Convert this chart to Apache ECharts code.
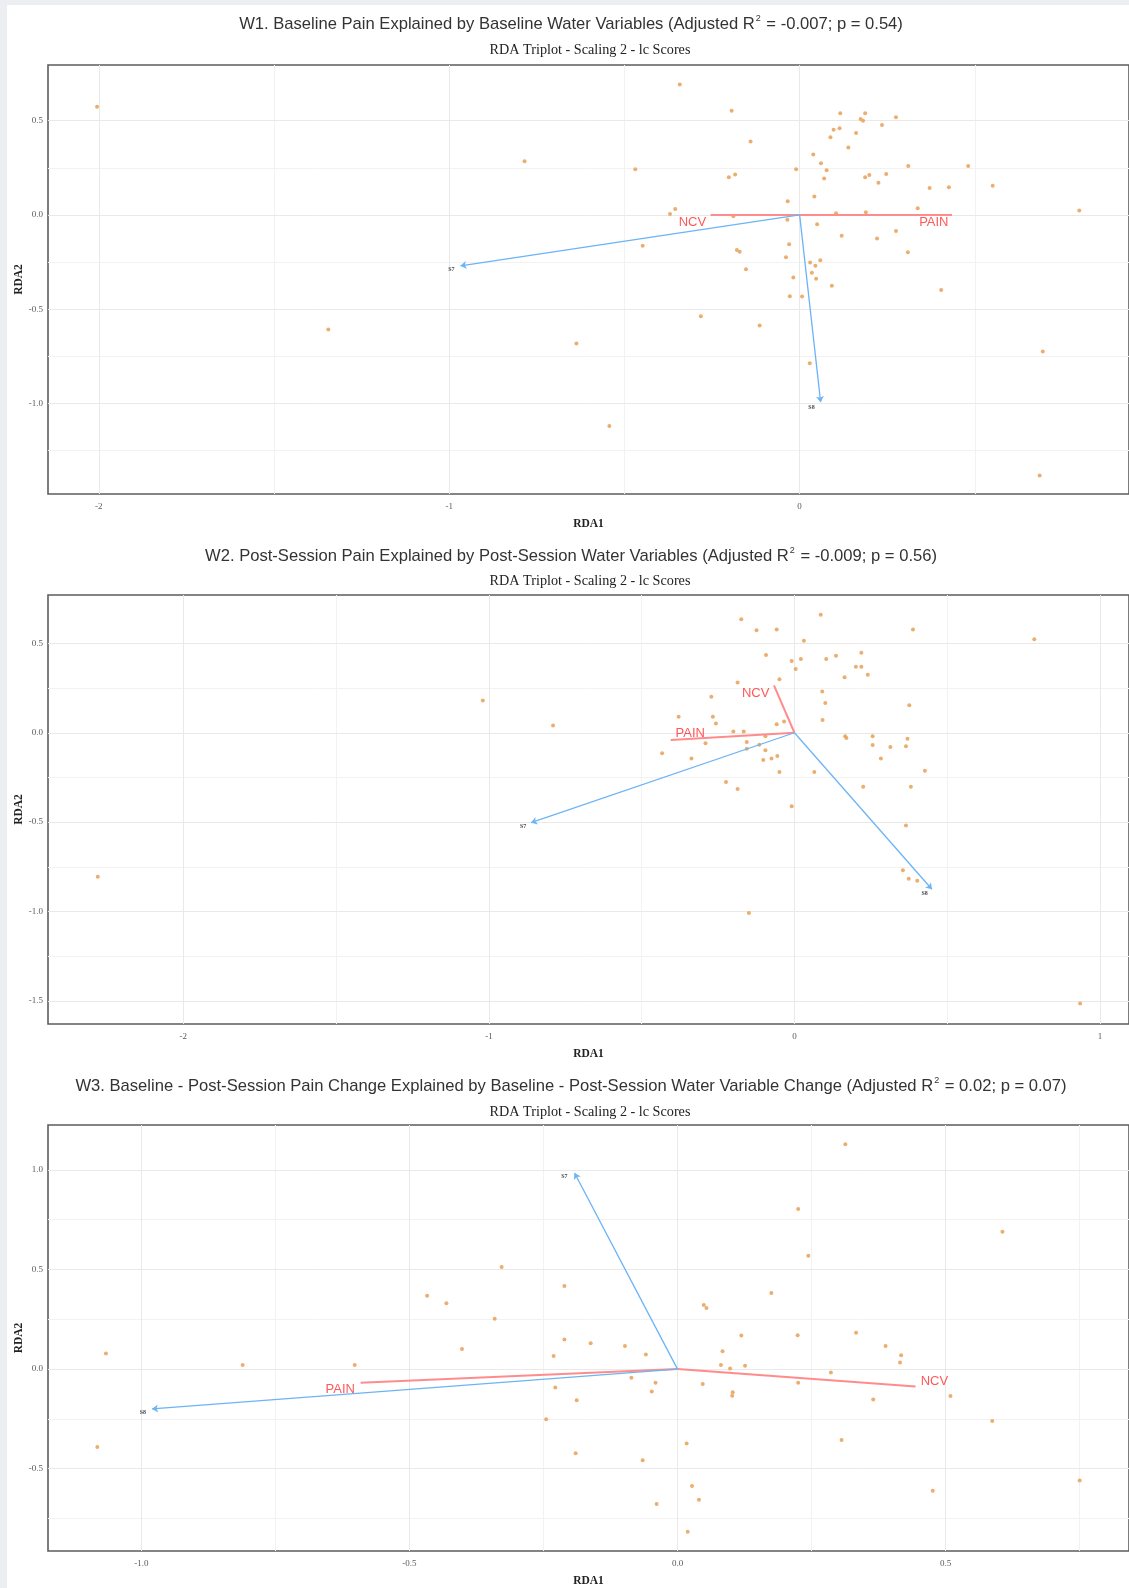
<!DOCTYPE html>
<html>
<head>
<meta charset="utf-8">
<script src="https://cdn.jsdelivr.net/npm/echarts@6/dist/echarts.min.js"></script>
<style>
  html, body { margin: 0; padding: 0; width: 1129px; height: 1588px; overflow: hidden; background: #eceef1; }
  #sheet { position: absolute; left: 7px; top: 5px; right: 0; bottom: 0; background: #ffffff; }
  #chart { position: absolute; left: 0; top: 0; width: 1129px; height: 1588px; }
</style>
</head>
<body>
<div id="sheet"></div>
<div id="chart"></div>
<script>
// ---------- W1: baseline ----------
const w1Title = ['W1. Baseline Pain Explained by Baseline Water Variables (Adjusted R', '2', ' = -0.007; p = 0.54)'];
const w1Sites = [
  [-2.005, 0.573], [-0.785, 0.284], [-1.345, -0.608],
  [-0.342, 0.691], [-0.194, 0.553], [-0.140, 0.389], [-0.469, 0.242], [-0.202, 0.200], [-0.184, 0.214],
  [-0.034, 0.072], [-0.010, 0.242], [-0.370, 0.005], [-0.355, 0.032], [-0.189, -0.007], [-0.035, -0.025],
  [-0.448, -0.164], [-0.179, -0.186], [-0.171, -0.196], [-0.153, -0.288], [-0.039, -0.224], [-0.030, -0.155],
  [-0.018, -0.332], [-0.028, -0.431], [0.007, -0.433], [-0.282, -0.537], [-0.114, -0.587], [-0.637, -0.682],
  [-0.543, -1.120], [0.029, -0.786], [0.039, 0.320], [0.061, 0.274], [0.077, 0.237], [0.070, 0.193],
  [0.042, 0.097], [0.050, -0.049], [0.030, -0.253], [0.045, -0.269], [0.059, -0.240], [0.035, -0.307],
  [0.047, -0.339], [0.092, -0.375], [0.104, 0.009], [0.120, -0.110], [0.088, 0.412], [0.097, 0.452],
  [0.114, 0.459], [0.116, 0.539], [0.139, 0.357], [0.161, 0.435], [0.174, 0.509], [0.181, 0.500],
  [0.187, 0.539], [0.235, 0.477], [0.275, 0.518], [0.187, 0.200], [0.199, 0.212], [0.225, 0.170],
  [0.247, 0.217], [0.189, 0.014], [0.221, -0.125], [0.275, -0.085], [0.310, 0.260], [0.309, -0.198],
  [0.337, 0.035], [0.371, 0.143], [0.426, 0.147], [0.481, 0.260], [0.551, 0.155], [0.404, -0.398],
  [0.798, 0.023], [0.694, -0.724], [0.685, -1.382]
];
const w1WaterNames = ['S7', 'S8'];
const w1WaterTips = [[-0.968, -0.270], [0.060, -0.993]];
const w1WaterLabelAt = [[-0.994, -0.287], [0.034, -1.019]];
const w1ResponseNames = ['NCV', 'PAIN'];
const w1ResponseTips = [[-0.254, 0.0], [0.435, 0.0]];
const w1ResponseLabelAt = [[-0.306, -0.042], [0.383, -0.042]];
const w1XRange = [-2.145, 0.94];
const w1YRange = [-1.48, 0.795];
const w1XTicks = [-2, -1, 0];
const w1XMinor = [-1.5, -0.5, 0.5];
const w1YTicks = [0.5, 0, -0.5, -1];
const w1YMinor = [0.25, -0.25, -0.75, -1.25];

// ---------- W2: post-session ----------
const w2Title = ['W2. Post-Session Pain Explained by Post-Session Water Variables (Adjusted R', '2', ' = -0.009; p = 0.56)'];
const w2Sites = [
  [-1.02, 0.18], [-0.79, 0.04], [-2.28, -0.806],
  [-0.174, 0.635], [-0.124, 0.574], [-0.058, 0.578], [0.086, 0.661], [0.388, 0.578], [0.785, 0.524],
  [0.031, 0.515], [-0.093, 0.435], [-0.009, 0.402], [0.021, 0.413], [0.004, 0.357], [0.104, 0.413],
  [0.136, 0.431], [0.219, 0.448], [0.201, 0.370], [0.219, 0.370], [0.240, 0.324], [0.164, 0.311],
  [-0.049, 0.300], [-0.186, 0.281], [0.091, 0.231], [0.101, 0.167], [0.092, 0.072], [0.376, 0.154],
  [-0.272, 0.202], [-0.379, 0.089], [-0.267, 0.089], [-0.257, 0.052], [-0.058, 0.048], [-0.034, 0.063],
  [-0.200, 0.007], [-0.166, 0.007], [-0.095, -0.020], [-0.156, -0.052], [-0.156, -0.089], [-0.115, -0.067],
  [-0.291, -0.059], [-0.433, -0.115], [-0.337, -0.144], [-0.095, -0.098], [-0.102, -0.152], [-0.075, -0.144],
  [-0.056, -0.130], [-0.049, -0.219], [0.065, -0.219], [0.166, -0.019], [0.170, -0.030], [0.256, -0.020],
  [0.256, -0.069], [0.314, -0.080], [0.365, -0.076], [0.370, -0.033], [0.283, -0.144], [0.427, -0.213],
  [-0.224, -0.276], [-0.186, -0.315], [0.225, -0.302], [0.381, -0.302], [-0.009, -0.411], [0.365, -0.519],
  [0.355, -0.770], [0.374, -0.817], [0.402, -0.828], [-0.149, -1.009], [0.935, -1.515]
];
const w2WaterNames = ['S7', 'S8'];
const w2WaterTips = [[-0.862, -0.503], [0.450, -0.876]];
const w2WaterLabelAt = [[-0.888, -0.525], [0.426, -0.902]];
const w2ResponseNames = ['NCV', 'PAIN'];
const w2ResponseTips = [[-0.067, 0.265], [-0.405, -0.041]];
const w2ResponseLabelAt = [[-0.127, 0.222], [-0.341, -0.006]];
const w2XRange = [-2.443, 1.095];
const w2YRange = [-1.63, 0.771];
const w2XTicks = [-2, -1, 0, 1];
const w2XMinor = [-1.5, -0.5, 0.5];
const w2YTicks = [0.5, 0, -0.5, -1, -1.5];
const w2YMinor = [0.25, -0.25, -0.75, -1.25];

// ---------- W3: baseline - post-session change ----------
const w3Title = ['W3. Baseline - Post-Session Pain Change Explained by Baseline - Post-Session Water Variable Change (Adjusted R', '2', ' = 0.02; p = 0.07)'];
const w3Sites = [
  [-1.066, 0.078], [-1.082, -0.391], [-0.811, 0.021], [-0.602, 0.021], [-0.467, 0.368], [-0.431, 0.330],
  [-0.328, 0.512], [-0.341, 0.252], [-0.402, 0.101], [-0.231, 0.066], [-0.228, -0.092], [-0.245, -0.252],
  [-0.211, 0.417], [-0.211, 0.148], [-0.188, -0.156], [-0.190, -0.422], [-0.162, 0.130], [-0.098, 0.116],
  [-0.059, 0.073], [-0.086, -0.043], [-0.041, -0.069], [-0.048, -0.113], [-0.065, -0.457], [-0.039, -0.677],
  [0.017, -0.373], [0.027, -0.587], [0.040, -0.656], [0.019, -0.816], [0.047, -0.075], [0.049, 0.321],
  [0.054, 0.307], [0.081, 0.021], [0.084, 0.090], [0.098, 0.003], [0.103, -0.116], [0.102, -0.134],
  [0.119, 0.168], [0.126, 0.017], [0.175, 0.382], [0.225, 0.804], [0.244, 0.569], [0.224, 0.170],
  [0.225, -0.069], [0.286, -0.017], [0.306, -0.356], [0.313, 1.128], [0.333, 0.182], [0.365, -0.153],
  [0.388, 0.116], [0.417, 0.069], [0.415, 0.033], [0.476, -0.611], [0.509, -0.135], [0.587, -0.260],
  [0.606, 0.689], [0.750, -0.559]
];
const w3WaterNames = ['S8', 'S7'];
const w3WaterTips = [[-0.980, -0.200], [-0.192, 0.984]];
const w3WaterLabelAt = [[-0.997, -0.220], [-0.211, 0.969]];
const w3ResponseNames = ['PAIN', 'NCV'];
const w3ResponseTips = [[-0.591, -0.069], [0.444, -0.087]];
const w3ResponseLabelAt = [[-0.629, -0.104], [0.479, -0.061]];
const w3XRange = [-1.174, 0.842];
const w3YRange = [-0.913, 1.225];
const w3XTicks = [-1, -0.5, 0, 0.5];
const w3XMinor = [-0.75, -0.25, 0.25, 0.75];
const w3YTicks = [1, 0.5, 0, -0.5];
const w3YMinor = [0.75, 0.25, -0.25, -0.75];

const subtitleText = 'RDA Triplot - Scaling 2 - lc Scores';

// ---------- layout of the three stacked panels ----------
const panels = [
  { title: w1Title, sites: w1Sites, waterNames: w1WaterNames, waterTips: w1WaterTips, waterLabelAt: w1WaterLabelAt,
    respNames: w1ResponseNames, respTips: w1ResponseTips, respLabelAt: w1ResponseLabelAt,
    xRange: w1XRange, yRange: w1YRange, xTicks: w1XTicks, xMinor: w1XMinor, yTicks: w1YTicks, yMinor: w1YMinor,
    xFmt: v => String(v),
    box: { left: 48, top: 65, width: 1086, height: 429 }, titleY: 24, subY: 50 },
  { title: w2Title, sites: w2Sites, waterNames: w2WaterNames, waterTips: w2WaterTips, waterLabelAt: w2WaterLabelAt,
    respNames: w2ResponseNames, respTips: w2ResponseTips, respLabelAt: w2ResponseLabelAt,
    xRange: w2XRange, yRange: w2YRange, xTicks: w2XTicks, xMinor: w2XMinor, yTicks: w2YTicks, yMinor: w2YMinor,
    xFmt: v => String(v),
    box: { left: 48, top: 595, width: 1083, height: 429 }, titleY: 556, subY: 581 },
  { title: w3Title, sites: w3Sites, waterNames: w3WaterNames, waterTips: w3WaterTips, waterLabelAt: w3WaterLabelAt,
    respNames: w3ResponseNames, respTips: w3ResponseTips, respLabelAt: w3ResponseLabelAt,
    xRange: w3XRange, yRange: w3YRange, xTicks: w3XTicks, xMinor: w3XMinor, yTicks: w3YTicks, yMinor: w3YMinor,
    xFmt: v => v.toFixed(1),
    box: { left: 48, top: 1125, width: 1082, height: 431 }, titleY: 1086, subY: 1112 }
];

const SERIF = '"Liberation Serif", "Times New Roman", serif';
const SANS = '"Liberation Sans", Arial, sans-serif';
const tickLabelStyle = { fontFamily: SERIF, fontSize: 9, color: '#5a5a5a' };
const axisNameStyle = { fontFamily: SERIF, fontSize: 11.5, fontWeight: 'bold', color: '#222222' };

const grids = [], xAxes = [], yAxes = [], series = [], graphics = [];

panels.forEach((p, i) => {
  grids.push(Object.assign({ show: true, backgroundColor: '#ffffff', borderColor: '#5c5c5c', borderWidth: 1.6 }, p.box));

  xAxes.push({
    type: 'value', gridIndex: i, min: p.xRange[0], max: p.xRange[1],
    axisLine: { show: false },
    splitLine: { show: false },
    axisTick: { show: true, customValues: p.xTicks, length: 3, lineStyle: { color: '#555555', width: 1 } },
    axisLabel: Object.assign({ show: true, customValues: p.xTicks, margin: 8, formatter: p.xFmt }, tickLabelStyle),
    name: 'RDA1', nameLocation: 'middle', nameGap: 24, nameTextStyle: axisNameStyle
  });
  yAxes.push({
    type: 'value', gridIndex: i, min: p.yRange[0], max: p.yRange[1],
    axisLine: { show: false },
    splitLine: { show: false },
    axisTick: { show: true, customValues: p.yTicks, length: 3, lineStyle: { color: '#555555', width: 1 } },
    axisLabel: Object.assign({ show: true, customValues: p.yTicks, margin: 5, formatter: v => v.toFixed(1) }, tickLabelStyle),
    name: 'RDA2', nameLocation: 'middle', nameGap: 23, nameRotate: 90, nameMoveOverlap: false, nameTextStyle: axisNameStyle
  });

  // panel grid lines, laid out on the axes' own scales, kept beneath every mark
  const minorStyle = { color: '#f2f2f2', width: 1, type: 'solid' };
  const majorStyle = { color: '#e9e9e9', width: 1, type: 'solid' };
  const gridLines = []
    .concat(p.xMinor.map(v => ({ xAxis: v, lineStyle: minorStyle })))
    .concat(p.yMinor.map(v => ({ yAxis: v, lineStyle: minorStyle })))
    .concat(p.xTicks.map(v => ({ xAxis: v, lineStyle: majorStyle })))
    .concat(p.yTicks.map(v => ({ yAxis: v, lineStyle: majorStyle })));
  series.push({
    type: 'line', xAxisIndex: i, yAxisIndex: i, data: [], silent: true, z: 1,
    markLine: { silent: true, z: 1, symbol: ['none', 'none'], label: { show: false }, animation: false, data: gridLines }
  });

  // site scores
  series.push({
    type: 'scatter', xAxisIndex: i, yAxisIndex: i, data: p.sites, symbolSize: 4, z: 3,
    itemStyle: { color: '#e8a55e', opacity: 0.9 }, silent: true
  });

  // response variable segments (no arrow heads)
  series.push({
    type: 'lines', coordinateSystem: 'cartesian2d', xAxisIndex: i, yAxisIndex: i, z: 4, silent: true,
    data: p.respTips.map(t => ({ coords: [[0, 0], t] })),
    symbol: ['none', 'none'],
    lineStyle: { color: '#ff8c8c', width: 2, opacity: 1 }
  });

  // explanatory (water) arrows
  series.push({
    type: 'lines', coordinateSystem: 'cartesian2d', xAxisIndex: i, yAxisIndex: i, z: 5, silent: true,
    data: p.waterTips.map(t => ({ coords: [[0, 0], t] })),
    symbol: ['none', 'arrow'], symbolSize: 6,
    lineStyle: { color: '#6cb4f5', width: 1.3, opacity: 1 }
  });

  // response labels
  series.push({
    type: 'scatter', xAxisIndex: i, yAxisIndex: i, z: 6, silent: true, symbolSize: 1,
    itemStyle: { color: 'rgba(0,0,0,0)' },
    data: p.respNames.map((n, k) => ({ name: n, value: p.respLabelAt[k] })),
    label: { show: true, position: 'inside', formatter: '{b}', color: '#ff2e2e', fontFamily: SANS, fontSize: 13 }
  });

  // water variable labels
  series.push({
    type: 'scatter', xAxisIndex: i, yAxisIndex: i, z: 6, silent: true, symbolSize: 1,
    itemStyle: { color: 'rgba(0,0,0,0)' },
    data: p.waterNames.map((n, k) => ({ name: n, value: p.waterLabelAt[k] })),
    label: { show: true, position: 'inside', formatter: '{b}', color: '#111111', fontFamily: SERIF, fontSize: 6, fontWeight: 'bold' }
  });

  // titles
  graphics.push({
    type: 'text', x: 571, y: p.titleY, silent: true,
    style: {
      text: '{t|' + p.title[0] + '}{s|' + p.title[1] + '}{t|' + p.title[2] + '}',
      align: 'center', verticalAlign: 'middle', textAlign: 'center', textVerticalAlign: 'middle',
      rich: {
        t: { fontFamily: SANS, fontSize: 16.6, fill: '#333333', lineHeight: 20 },
        s: { fontFamily: SANS, fontSize: 9, fill: '#333333', lineHeight: 8, verticalAlign: 'top', padding: [0, 1, 0, 1] }
      }
    }
  });
  graphics.push({
    type: 'text', x: 590, y: p.subY, silent: true,
    style: {
      text: subtitleText, font: '14.2px ' + SERIF, fill: '#222222',
      align: 'center', verticalAlign: 'middle', textAlign: 'center', textVerticalAlign: 'middle'
    }
  });
});

const chart = echarts.init(document.getElementById('chart'), null, { renderer: 'canvas' });
chart.setOption({
  animation: false,
  backgroundColor: 'transparent',
  grid: grids,
  xAxis: xAxes,
  yAxis: yAxes,
  series: series,
  graphic: graphics
});
</script>
</body>
</html>
